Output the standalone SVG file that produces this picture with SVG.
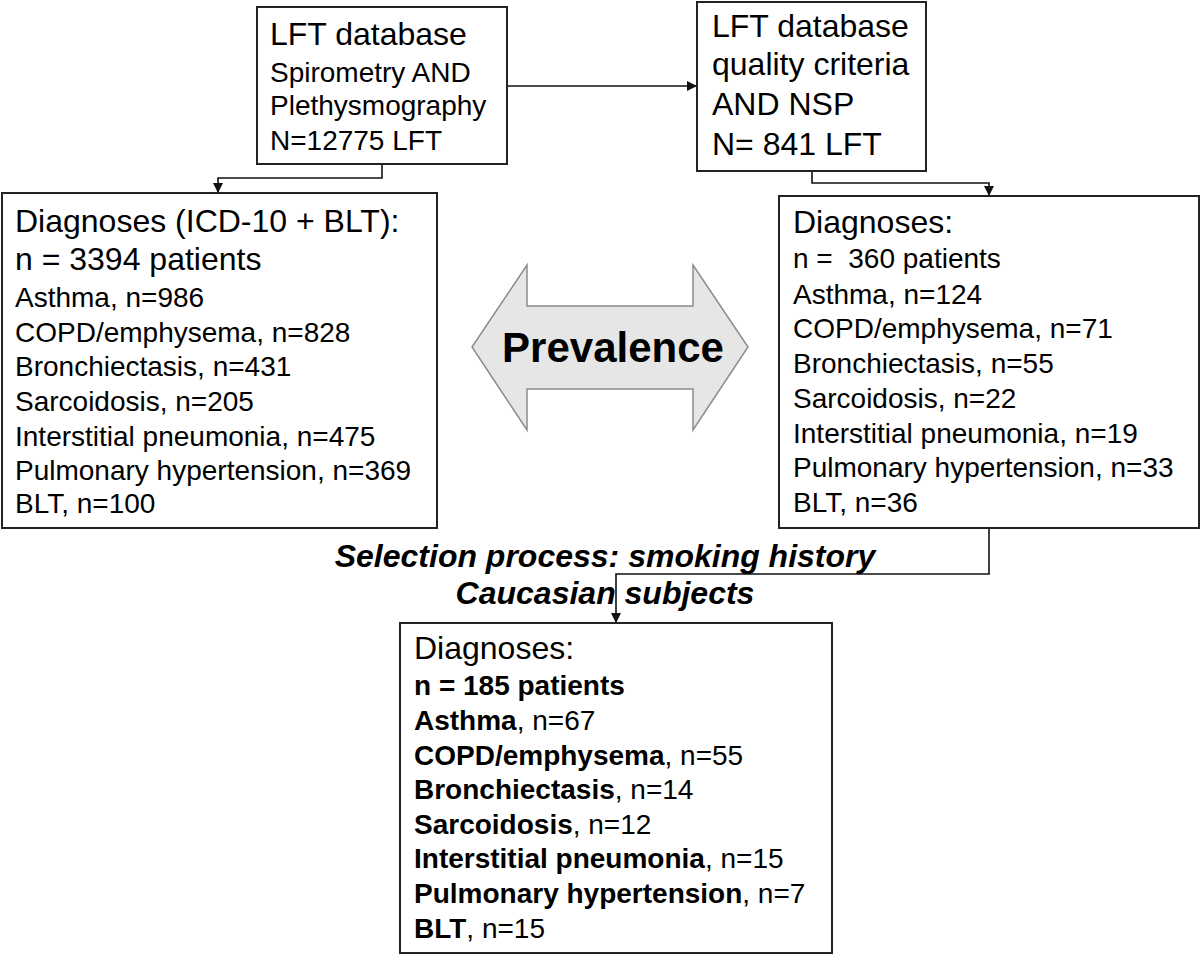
<svg xmlns="http://www.w3.org/2000/svg" width="1200" height="955" viewBox="0 0 1200 955">
<defs>
<style>
.box{fill:#fff;stroke:#222;stroke-width:2}
.t{font-family:"Liberation Sans",Arial,sans-serif;fill:#000}
.s32{font-size:32px}
.s28{font-size:28px}
.b{font-weight:bold}
.bi{font-weight:bold;font-style:italic}
.con{fill:none;stroke:#111;stroke-width:1.6}
</style>
<marker id="ah" markerWidth="10" markerHeight="10" refX="9" refY="5" orient="auto" markerUnits="userSpaceOnUse">
<path d="M0,0 L10,5 L0,10 Z" fill="#111"/>
</marker>
</defs>
<rect width="1200" height="955" fill="#fff"/>
<g id="connectors">
<path class="con" d="M507,86 H696" marker-end="url(#ah)"/>
<path class="con" d="M382,164 V178 H218 V192" marker-end="url(#ah)"/>
<path class="con" d="M812,171 V183 H989 V195" marker-end="url(#ah)"/>
<path class="con" d="M989,528 V574 H616 V622" marker-end="url(#ah)"/>
</g>
<g id="node-lft-db">
<rect class="box" x="257" y="7" width="250" height="157"/>
<text class="t s32" x="270" y="45">LFT database</text>
<text class="t s28" x="270" y="82">Spirometry AND</text>
<text class="t s28" x="270" y="115">Plethysmography</text>
<text class="t s28" x="270" y="150">N=12775 LFT</text>
</g>
<g id="node-lft-quality">
<rect class="box" x="697" y="2" width="229" height="169"/>
<text class="t s32" x="712" y="37">LFT database</text>
<text class="t s32" x="712" y="75">quality criteria</text>
<text class="t s32" x="712" y="115">AND NSP</text>
<text class="t s32" x="712" y="155">N= 841 LFT</text>
</g>
<g id="node-diag-all">
<rect class="box" x="2" y="193" width="435" height="335"/>
<text class="t s32" x="15" y="232">Diagnoses (ICD-10 + BLT):</text>
<text class="t s32" x="15" y="270">n = 3394 patients</text>
<text class="t s28" x="15" y="307">Asthma, n=986</text>
<text class="t s28" x="15" y="342">COPD/emphysema, n=828</text>
<text class="t s28" x="15" y="376">Bronchiectasis, n=431</text>
<text class="t s28" x="15" y="411">Sarcoidosis, n=205</text>
<text class="t s28" x="15" y="446">Interstitial pneumonia, n=475</text>
<text class="t s28" x="15" y="480">Pulmonary hypertension, n=369</text>
<text class="t s28" x="15" y="513">BLT, n=100</text>
</g>
<g id="node-prevalence">
<polygon points="472,347 527,265 527,306 693,306 693,265 748,347 693,430 693,389 527,389 527,430" fill="#e6e6e6" stroke="#8c8c8c" stroke-width="1.5"/>
<text class="t b" x="613" y="362" font-size="42" text-anchor="middle">Prevalence</text>
</g>
<g id="node-diag-quality">
<rect class="box" x="779" y="196" width="420" height="332"/>
<text class="t s32" x="793" y="233">Diagnoses:</text>
<text class="t s28" x="793" y="268" xml:space="preserve">n =  360 patients</text>
<text class="t s28" x="793" y="304">Asthma, n=124</text>
<text class="t s28" x="793" y="338">COPD/emphysema, n=71</text>
<text class="t s28" x="793" y="373">Bronchiectasis, n=55</text>
<text class="t s28" x="793" y="408">Sarcoidosis, n=22</text>
<text class="t s28" x="793" y="443">Interstitial pneumonia, n=19</text>
<text class="t s28" x="793" y="477">Pulmonary hypertension, n=33</text>
<text class="t s28" x="793" y="512">BLT, n=36</text>
</g>
<g id="label-selection">
<text class="t s32 bi" x="605" y="567" text-anchor="middle">Selection process: smoking history</text>
<text class="t s32 bi" x="605" y="604" text-anchor="middle">Caucasian subjects</text>
</g>
<g id="node-diag-selected">
<rect class="box" x="400" y="623" width="432" height="330"/>
<text class="t s32" x="414" y="659">Diagnoses:</text>
<text class="t s28 b" x="414" y="695">n = 185 patients</text>
<text class="t s28" x="414" y="730"><tspan class="b">Asthma</tspan>, n=67</text>
<text class="t s28" x="414" y="765"><tspan class="b">COPD/emphysema</tspan>, n=55</text>
<text class="t s28" x="414" y="799"><tspan class="b">Bronchiectasis</tspan>, n=14</text>
<text class="t s28" x="414" y="834"><tspan class="b">Sarcoidosis</tspan>, n=12</text>
<text class="t s28" x="414" y="868"><tspan class="b">Interstitial pneumonia</tspan>, n=15</text>
<text class="t s28" x="414" y="903"><tspan class="b">Pulmonary hypertension</tspan>, n=7</text>
<text class="t s28" x="414" y="938"><tspan class="b">BLT</tspan>, n=15</text>
</g>
</svg>
